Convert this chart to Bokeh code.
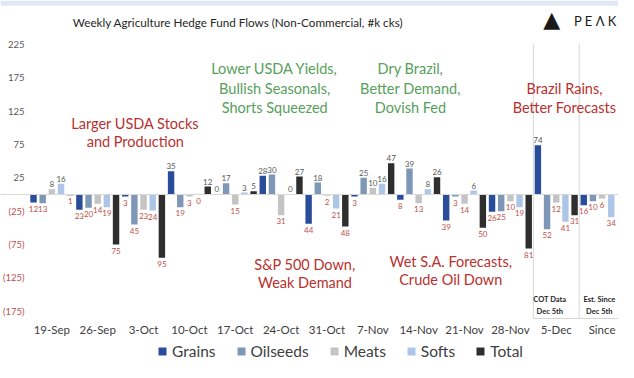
import math
from bokeh.plotting import figure
from bokeh.models import (ColumnDataSource, Range1d, FixedTicker, Span, BoxAnnotation,
                          Legend, LegendItem)
from bokeh.core.properties import value
from bokeh.embed import file_html
from bokeh.resources import INLINE

# ---------------- data (k contracts) ----------------
weeks = ["19-Sep", "26-Sep", "3-Oct", "10-Oct", "17-Oct", "24-Oct", "31-Oct",
         "7-Nov", "14-Nov", "21-Nov", "28-Nov", "5-Dec", "Since"]
grains   = [-12, -23,  -3,  35,   0.2,  28, -44,  -3,  -8, -39, -26,  74, -16]
oilseeds = [-13, -20, -45, -19,  17,    30,  18,  25,  39,  -3, -25, -52, -10]
meats    = [  8, -14, -23,  -3, -15,   -31,  -2,  10, -13, -14, -10, -12,  -6]
softs    = [ 16, -19, -24,  -0.3,  3,  0.3, -21,  16,   8,   6, -19, -41, -34]
total    = [ -1, -75, -95,  12,   5,    27, -48,  47,  26, -50, -81, -31, float("nan")]

series_names = ["Grains", "Oilseeds", "Meats", "Softs", "Total"]
series_values = [grains, oilseeds, meats, softs, total]
series_colors = ["#2a4d9b", "#7f97b6", "#c4c4c4", "#adc6e8", "#2e2e2e"]

y_ticks = [225, 175, 125, 75, 25, -25, -75, -125, -175]
y_tick_labels = ["225", "175", "125", "75", "25", "(25)", "(75)", "(125)", "(175)"]

title_text = "Weekly Agriculture Hedge Fund Flows (Non-Commercial, #k cks)"

RED = "#b8312f"
GREEN = "#57a05b"
POS_LBL = "#595959"
NEG_LBL = "#c0504d"
FONT = "Lato"

n_series = len(series_names)
x_start, x_end = -3.6, 63.79

p = figure(width=618, height=362, output_backend="svg", toolbar_location=None,
           x_range=Range1d(x_start, x_end), y_range=Range1d(-252, 291),
           min_border_left=0, min_border_right=0, min_border_top=0,
           min_border_bottom=0)
p.outline_line_color = None
p.xgrid.visible = False
p.ygrid.visible = False
p.yaxis.visible = False

# slide band at the top
p.add_layout(BoxAnnotation(bottom=283, fill_color="#dfe8f4", fill_alpha=1, line_color=None))

# zero line
p.add_layout(Span(location=0, dimension="width", line_color="#d9d9d9", line_width=1))

# bars
renderers = []
pos_x, pos_y, pos_t = [], [], []
neg_x, neg_y, neg_t = [], [], []
for s, (name, vals, col) in enumerate(zip(series_names, series_values, series_colors)):
    xs, tops = [], []
    for g, v in enumerate(vals):
        if v is None or (isinstance(v, float) and math.isnan(v)):
            continue
        x = g * n_series + s
        xs.append(x)
        tops.append(v)
        txt = str(int(round(abs(v))))
        if v >= 0:
            pos_x.append(x); pos_y.append(v); pos_t.append(txt)
        else:
            neg_x.append(x); neg_y.append(v); neg_t.append(txt)
    src = ColumnDataSource(dict(x=xs, top=tops))
    r = p.vbar(x="x", top="top", bottom=0, width=0.7, source=src,
               fill_color=col, line_color=None)
    renderers.append(r)

p.text(x=pos_x, y=pos_y, text=pos_t, text_font=value(FONT), text_font_size="8px",
       text_color=POS_LBL, text_align="center", text_baseline="bottom", y_offset=-2)
p.text(x=neg_x, y=neg_y, text=neg_t, text_font=value(FONT), text_font_size="8px",
       text_color=NEG_LBL, text_align="center", text_baseline="top", y_offset=3)

# y tick labels (positive grey, negative red in parentheses)
p.text(x=[-0.98] * len(y_ticks), y=y_ticks, text=y_tick_labels,
       text_color=[POS_LBL if t > 0 else NEG_LBL for t in y_ticks],
       text_align="right", text_baseline="middle",
       text_font=value(FONT), text_font_size="9.5px")

# x axis, drawn just under the plotting area
p.xaxis.fixed_location = -186
p.xaxis.ticker = FixedTicker(ticks=[g * n_series + 2 for g in range(len(weeks))])
p.xaxis.major_label_overrides = {g * n_series + 2: w for g, w in enumerate(weeks)}
p.xaxis.axis_line_color = None
p.xaxis.major_tick_line_color = None
p.xaxis.minor_tick_line_color = None
p.xaxis.major_tick_out = 0
p.xaxis.major_tick_in = 0
p.xaxis.major_label_standoff = 4
p.xaxis.major_label_text_font = FONT
p.xaxis.major_label_text_font_size = "11.5px"
p.xaxis.major_label_text_color = "#404040"

# COT box lines
p.segment(x0=[54.5, 59.5], y0=[-186, -186], x1=[54.5, 59.5], y1=[226, 226],
          line_color="#d6d6d6", line_width=1)
p.segment(x0=[54.5], y0=[-186], x1=[x_end], y1=[-186], line_color="#d6d6d6", line_width=1)
p.text(x=[56.3, 56.3, 61.7, 61.7], y=[-157, -175, -157, -175],
       text=["COT Data", "Dec 5th", "Est. Since", "Dec 5th"],
       text_font=value(FONT), text_font_style="bold", text_font_size="7.5px",
       text_color="#262626", text_align="center", text_baseline="middle")

# title and logo
p.text(x=[22.3], y=[259], text=[title_text], text_font=value(FONT),
       text_font_size="11.7px", text_color="#262626", text_align="center",
       text_baseline="middle")
p.text(x=[56.5], y=[262], text=["▲"], text_font=value("DejaVu Sans"),
       text_font_size="22px", text_color="#1a1a1a", text_align="center",
       text_baseline="middle")
p.text(x=[63.6], y=[260], text=["P E Λ K"], text_font=value(FONT),
       text_font_size="13px", text_color="#1a1a1a", text_align="right",
       text_baseline="middle")

# commentary
notes = [
    (["Larger USDA Stocks", "and Production"], 11.1, [106, 79], RED),
    (["Lower USDA Yields,", "Bullish Seasonals,", "Shorts Squeezed"], 26.3, [189, 159, 130], GREEN),
    (["Dry Brazil,", "Better Demand,", "Dovish Fed"], 41.1, [189, 159, 130], GREEN),
    (["Brazil Rains,", "Better Forecasts"], 57.9, [159, 130], RED),
    (["S&P 500 Down,", "Weak Demand"], 29.6, [-105, -132], RED),
    (["Wet S.A. Forecasts,", "Crude Oil Down"], 45.5, [-101, -128], RED),
]
for lines, xc, ys, col in notes:
    p.text(x=[xc] * len(lines), y=ys, text=lines, text_font=value(FONT),
           text_font_size="14.5px", text_color=col, text_align="center",
           text_baseline="middle")

legend = Legend(items=[LegendItem(label=n, renderers=[r]) for n, r in zip(series_names, renderers)],
                orientation="horizontal", location=(157, 2),
                label_text_font=FONT, label_text_font_size="15.5px",
                label_text_color="#404040", glyph_width=10, glyph_height=10,
                label_standoff=5, spacing=20, padding=2, margin=0,
                border_line_color=None, background_fill_alpha=0)
p.add_layout(legend, "center")

open("out.html", "w").write(file_html(p, INLINE))
